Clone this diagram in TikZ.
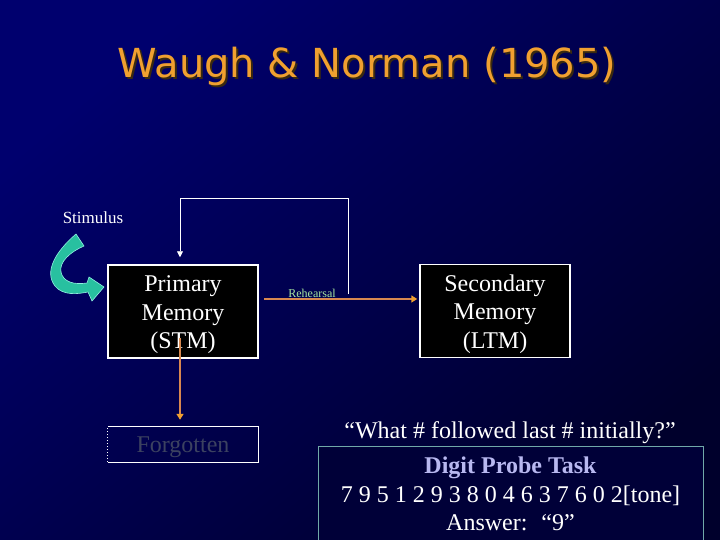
\documentclass[tikz,border=0pt]{standalone}
\usepackage{fontspec}
\setmainfont{Liberation Serif}
\newfontfamily\titlefont{DejaVu Sans}
\usetikzlibrary{arrows.meta,positioning}

\definecolor{bglight}{HTML}{00006E}
\definecolor{bgdark}{HTML}{00002C}
\definecolor{titleorange}{HTML}{F0A030}
\definecolor{titleshadow}{HTML}{3A2A10}
\definecolor{rehearsalgreen}{HTML}{A8E8A0}
\definecolor{linkorange}{HTML}{D88850}
\definecolor{tiporange}{HTML}{F0A030}
\definecolor{arrowteal}{HTML}{28C0A0}
\definecolor{arrowedge}{HTML}{90F0E0}
\definecolor{probeblue}{HTML}{B8B8F0}
\definecolor{probeframe}{HTML}{70A8A8}
\definecolor{probefill}{HTML}{000038}
\definecolor{forgotgray}{HTML}{3C4260}

\begin{document}
\begin{tikzpicture}[x=1pt, y=-1pt]
    % Define styles
    \tikzset{
        memorybox/.style={draw=white, line width=1.5pt, fill=black, text=white, minimum width=150pt, minimum height=93pt, inner sep=0pt, align=center, font=\fontsize{24}{28.5}\selectfont},
        forgotbox/.style={minimum width=150pt, minimum height=35pt, inner sep=0pt, text=forgotgray, font=\fontsize{24}{28.5}\selectfont},
        probebox/.style={draw=probeframe, line width=1pt, fill=probefill, text=white, minimum width=385pt, minimum height=96pt, inner sep=0pt, align=center, font=\fontsize{24}{28.5}\selectfont},
        plaintext/.style={text=white, inner sep=0pt, font=\fontsize{24}{28.5}\selectfont},
        orangearrow/.style={draw=linkorange, line width=2pt, -{Triangle[length=6pt, width=7pt, color=tiporange]}},
        loopline/.style={draw=white, line width=0.8pt, -{Triangle[length=6pt, width=6pt]}}
    }

    % Background
    \useasboundingbox (0,0) rectangle (720,540);
    \shade[top color=bglight, bottom color=bgdark, shading angle=40] (0,0) rectangle (720,540);

    % Title
    \node[text=titleshadow, font=\titlefont\fontsize{40}{40}\selectfont] (titleshade) at (369,68) {Waugh \& Norman (1965)};
    \node[text=titleorange, font=\titlefont\fontsize{40}{40}\selectfont] (title) at (367,66) {Waugh \& Norman (1965)};

    % Memory stores
    \node[memorybox] (primary) at (183,311.5) {\rule{0pt}{23pt}Primary\\Memory\\(STM)};
    \node[memorybox] (secondary) at (495,311) {\rule{0pt}{23pt}Secondary\\Memory\\(LTM)};
    \node[forgotbox] (forgotten) at (183,444.5) {\rule{0pt}{21pt}Forgotten};
    \draw[white, line width=1pt] (forgotten.north west) -- (forgotten.north east) -- (forgotten.south east) -- (forgotten.south west);
    \draw[white, line width=1pt, dotted] (forgotten.south west) -- (forgotten.north west);

    % Stimulus and its arrow
    \node[text=white, inner sep=0pt, font=\fontsize{17}{20}\selectfont] (stimulus) at (93,218) {Stimulus};
    \filldraw[fill=arrowteal, draw=arrowedge, line width=0.6pt]
        (76,234) .. controls (55,252) and (44,272) .. (55,286)
        .. controls (63,296) and (78,294) .. (88,292)
        -- (92,301) -- (104,287) -- (89,277) -- (87,283)
        .. controls (74,285) and (63,282) .. (61,272)
        .. controls (59,262) and (70,252) .. (84,246) -- cycle;

    % Rehearsal
    \coordinate (rehstart) at (264,299);
    \node[text=rehearsalgreen, inner sep=0pt, font=\fontsize{12}{14}\selectfont] (rehearsal) at (312,293) {Rehearsal};
    \draw[orangearrow] (rehstart) -- ([xshift=-2pt]secondary.west |- rehstart);

    % Rehearsal loop
    \coordinate (loopstart) at (348,294);
    \coordinate (looptop) at (180,198);
    \draw[loopline] (loopstart) |- (looptop) -- ([yshift=7pt]looptop |- primary.north);

    % Forgetting
    \draw[orangearrow] ([xshift=-3pt, yshift=21pt]primary.south) -- ([xshift=-3pt, yshift=7pt]forgotten.north);

    % Digit probe task
    \node[plaintext] (question) at (510,433) {``What \# followed last \# initially?''};
    \node[probebox] (probe) at (510.5,494) {\textcolor{probeblue}{\textbf{Digit Probe Task}}\\7 9 5 1 2 9 3 8 0 4 6 3 7 6 0 2[tone]\\Answer:~ ``9''};

\end{tikzpicture}
\end{document}
